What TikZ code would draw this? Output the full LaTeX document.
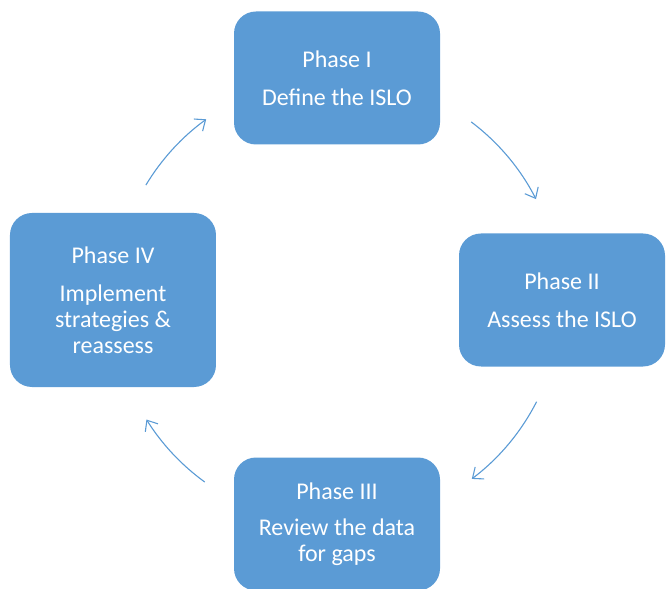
\documentclass[tikz,border=0pt]{standalone}
\usepackage{fontspec}
\setmainfont{Carlito}
\usetikzlibrary{arrows.meta}
\definecolor{phaseblue}{HTML}{5B9BD5}
\tikzset{
  phase/.style={fill=phaseblue, text=white, rounded corners=22pt,
    minimum width=206pt, minimum height=133pt, align=center,
    font=\fontsize{24}{26}\selectfont},
  loop arrow/.style={draw=phaseblue, line width=1.1pt,
    -{Straight Barb[length=9pt,width=15pt]}}
}
\begin{document}
\begin{tikzpicture}
      \useasboundingbox (-337pt,-288pt) rectangle (331pt,300pt);
      \draw
        (90:222pt) node[phase] (1){Phase I\\[12pt]Define the ISLO}
        (0:225pt) node[phase] (2){Phase II\\[12pt]Assess the ISLO}
        (270:224pt) node[phase] (3){Phase III\\[10pt]Review the data\\for gaps}
        (180:224pt) node[phase, minimum height=174pt] (4){Phase IV\\[12pt]Implement\\strategies \&\\reassess};
      \coordinate (a1) at (53:223pt);
      \coordinate (a2) at (-27:224pt);
      \coordinate (a3) at (-126:225pt);
      \coordinate (a4) at (149:223pt);
      \begin{scope}[loop arrow]
        \draw (a1) arc[start angle=53, end angle=27, radius=224pt];
        \draw (a2) arc[start angle=-27, end angle=-53, radius=224pt];
        \draw (a3) arc[start angle=-126, end angle=-148, radius=224pt];
        \draw (a4) arc[start angle=149, end angle=126, radius=224pt];
      \end{scope}
    \end{tikzpicture}
\end{document}
